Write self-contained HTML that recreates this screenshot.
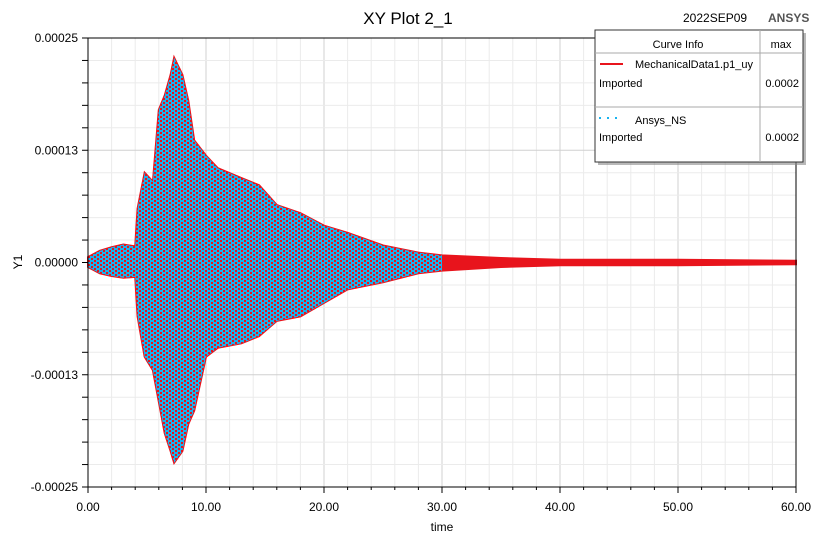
<!DOCTYPE html>
<html><head><meta charset="utf-8"><style>
body{margin:0;background:#fff;font-family:"Liberation Sans",sans-serif}
svg text{font-family:"Liberation Sans",sans-serif}
</style></head><body>
<svg id="c" width="820" height="541" viewBox="0 0 820 541">
<defs>
<pattern id="hatch" width="6" height="4" patternUnits="userSpaceOnUse">
<rect x="0" y="0" width="4" height="2" fill="#19b3ef"/>
<rect x="3" y="2" width="3" height="2" fill="#19b3ef"/>
<rect x="0" y="2" width="1" height="2" fill="#19b3ef"/>
</pattern>
<clipPath id="cyanclip"><rect id="cyanrect" x="0" y="0" width="0" height="541"/></clipPath>
</defs>
<g id="grid"></g>
<g id="series"></g>
<g id="axes"></g>
<text x="408" y="24" font-size="17" text-anchor="middle">XY Plot 2_1</text>
<text x="683" y="22" font-size="12">2022SEP09</text>
<text x="768" y="22" font-size="12" font-weight="bold" fill="#555">ANSYS</text>
<text x="442" y="531" font-size="12" text-anchor="middle">time</text>
<text x="22" y="262" font-size="12" text-anchor="middle" transform="rotate(-90 22 262)">Y1</text>
<g>
<rect x="598" y="33" width="208" height="132" fill="#888" opacity="0.6"/>
<rect x="595" y="30" width="208" height="132" fill="#fff" stroke="#333" stroke-width="1"/>
<line x1="595" y1="53" x2="803" y2="53" stroke="#aaa"/>
<line x1="760" y1="30" x2="760" y2="162" stroke="#aaa"/>
<line x1="595" y1="107" x2="803" y2="107" stroke="#aaa"/>
<text x="678" y="48" font-size="11" text-anchor="middle">Curve Info</text>
<text x="781" y="48" font-size="11" text-anchor="middle">max</text>
<line x1="600" y1="64" x2="623" y2="64" stroke="#e8141c" stroke-width="2"/>
<text x="635" y="68" font-size="11">MechanicalData1.p1_uy</text>
<text x="599" y="87" font-size="11">Imported</text>
<text x="799" y="87" font-size="11" text-anchor="end">0.0002</text>
<line x1="599" y1="118" x2="623" y2="118" stroke="#19b3ef" stroke-width="2" stroke-dasharray="2,6"/>
<text x="635" y="124" font-size="11">Ansys_NS</text>
<text x="599" y="141" font-size="11">Imported</text>
<text x="799" y="141" font-size="11" text-anchor="end">0.0002</text>
</g>
</svg>
<script>
// envelope data (units of 1e-4)
const times=[0,1,2,3,4,4.2,4.8,5.5,6,6.5,7,7.3,8,8.5,9,10,11,13,14.5,16,18,20,22,25,28,30,35,40,50,60];
const upper=[0.06,0.13,0.17,0.2,0.18,0.6,1.0,0.9,1.7,1.86,2.09,2.28,2.09,1.8,1.36,1.19,1.05,0.94,0.86,0.64,0.55,0.41,0.33,0.19,0.11,0.08,0.05,0.03,0.03,0.02];
const lower=[-0.05,-0.12,-0.15,-0.17,-0.16,-0.6,-1.05,-1.2,-1.55,-1.9,-2.1,-2.23,-2.1,-1.8,-1.65,-1.05,-0.95,-0.9,-0.82,-0.65,-0.6,-0.45,-0.3,-0.22,-0.12,-0.09,-0.05,-0.03,-0.03,-0.02];
const cyanEnd=[30];
const xTicks=[0,10,20,30,40,50,60];
const yTicks=[2.5,1.25,0,-1.25,-2.5];
const yTickLabels=["0.00025","0.00013","0.00000","-0.00013","-0.00025"];
const X0=88,X1=796,Y0=38,Y1=487;
const xs=t=>X0+(X1-X0)*t/60;
const ys=v=>Y0+(Y1-Y0)*(2.5-v)/5;
const NS="http://www.w3.org/2000/svg";
function mk(tag,attrs,parent){const e=document.createElementNS(NS,tag);for(const k in attrs)e.setAttribute(k,attrs[k]);parent.appendChild(e);return e;}
const grid=document.getElementById('grid'),axes=document.getElementById('axes'),series=document.getElementById('series');
for(let t=0;t<=60;t+=2){
 const l=mk('line',{x1:xs(t),x2:xs(t),y1:Y0,y2:Y1,stroke:t%10===0?'#d0d0d0':'#ebebeb','stroke-width':1},grid);
 
 
}
for(let i=0;i<=20;i++){
 const v=2.5-i*0.25;
 const l=mk('line',{x1:X0,x2:X1,y1:ys(v),y2:ys(v),stroke:i%5===0?'#d0d0d0':'#ebebeb','stroke-width':1},grid);
 
 
 const tk=mk('line',{x1:X0-6,x2:X0,y1:ys(v),y2:ys(v),stroke:'#000'},axes);
 
 
}
for(let t=0;t<=60;t+=2){
 const tk=mk('line',{x1:xs(t),x2:xs(t),y1:Y1,y2:Y1+(t%10===0?6:3),stroke:'#000'},axes);
 
 
}
let pts=[];
for(let i=0;i<times.length;i++)pts.push(xs(times[i])+','+ys(upper[i]));
for(let i=times.length-1;i>=0;i--)pts.push(xs(times[i])+','+ys(lower[i]));
const red=mk('polygon',{points:pts.join(' '),fill:'#e8141c',stroke:'#e8141c','stroke-width':2},series);


document.getElementById('cyanrect').setAttribute('x',X0);
document.getElementById('cyanrect').setAttribute('width',xs(cyanEnd[0])-X0);
const cy=mk('polygon',{points:pts.join(' '),fill:'url(#hatch)','clip-path':'url(#cyanclip)'},series);


mk('line',{x1:X0,x2:X0,y1:Y0,y2:Y1,stroke:'#000'},axes);
mk('line',{x1:X0,x2:X1,y1:Y1,y2:Y1,stroke:'#000'},axes);
mk('line',{x1:X0,x2:X1,y1:Y0,y2:Y0,stroke:'#000'},axes);
mk('line',{x1:X1,x2:X1,y1:Y0,y2:Y1,stroke:'#000'},axes);
xTicks.forEach(t=>{
 const tx=mk('text',{x:xs(t),y:Y1+24,'font-size':12,'text-anchor':'middle'},axes);
 tx.textContent=t.toFixed(2);
 
 
});
yTicks.forEach((v,i)=>{
 const tx=mk('text',{x:78,y:ys(v)+4,'font-size':12,'text-anchor':'end'},axes);
 tx.textContent=yTickLabels[i];
 
 
});
</script>
</body></html>
